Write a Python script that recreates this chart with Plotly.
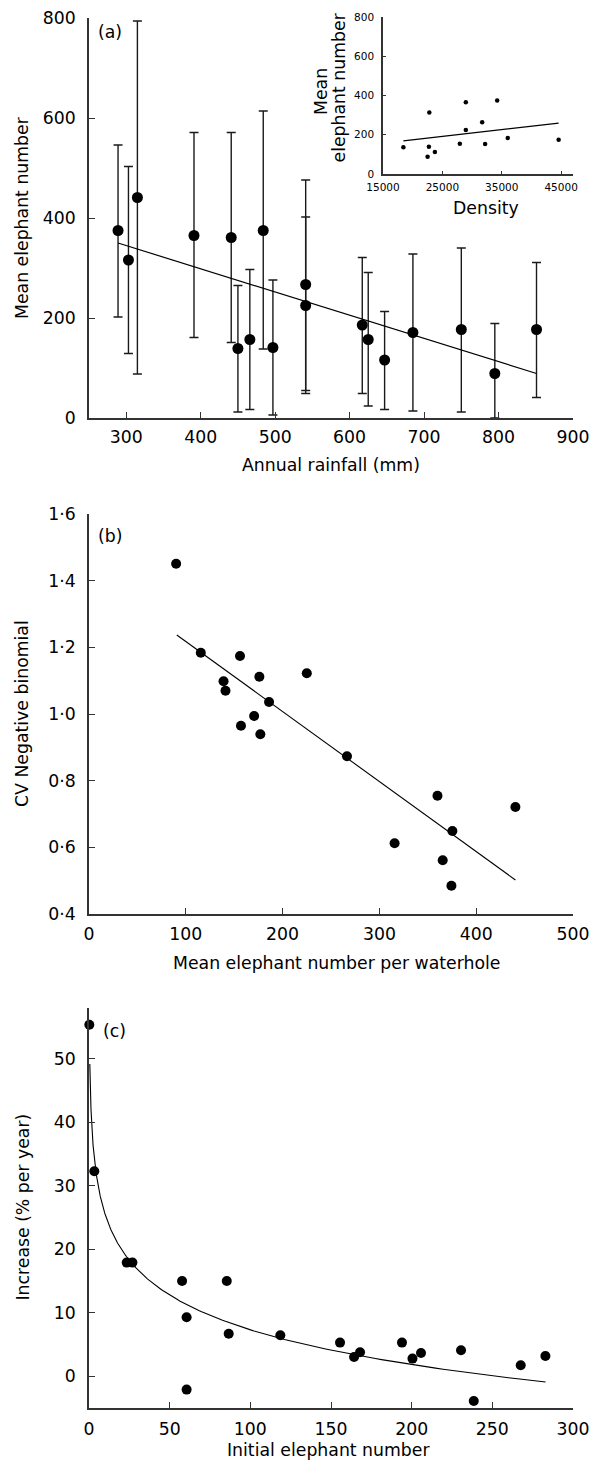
import numpy as np
import plotly.graph_objects as go

# ---------------- data ----------------
# Panel (a): mean elephant number vs annual rainfall, with error bars
rainfall = [289, 303, 315, 391, 441, 450, 466, 484, 497, 541, 541, 617, 625, 647, 685, 750, 795, 851]
mean_number = [375, 316, 441, 365, 361, 139, 157, 375, 141, 267, 225, 186, 157, 116, 171, 177, 89, 177]
bar_upper = [546, 503, 794, 571, 571, 265, 297, 614, 276, 476, 402, 321, 291, 213, 328, 340, 189, 311]
bar_lower = [202, 129, 88, 161, 151, 12, 17, 138, 6, 49, 55, 49, 24, 17, 14, 12, 0, 41]
fit_a_slope, fit_a_intercept = -0.4644, 484.2
fit_a_range = [289, 851]

# Inset: mean elephant number vs density
density = [18430, 22800, 22730, 22510, 23740, 27940, 28950, 28950, 31700, 32200, 34230, 36010, 44580]
inset_mean = [136, 314, 139, 88, 112, 154, 365, 224, 264, 153, 375, 183, 175]
fit_i_slope, fit_i_intercept = 0.003442, 105.6
fit_i_range = [18430, 44580]

# Panel (b): CV negative binomial vs mean number per waterhole
mean_per_hole = [90, 115.5, 156, 139, 141, 176, 186, 170.6, 157, 177, 225, 266.5, 360, 440.5, 375.4, 315.7, 365.4, 374.4]
cv_negbin = [1.451, 1.184, 1.174, 1.098, 1.070, 1.112, 1.036, 0.994, 0.965, 0.939, 1.122, 0.873, 0.755, 0.721, 0.649, 0.612, 0.561, 0.485]
fit_b_slope, fit_b_intercept = -0.002101, 1.4276
fit_b_range = [90.7, 440.5]

# Panel (c): increase (% per year) vs initial elephant number
initial_number = [0.2, 3.3, 23.4, 26.9, 57.7, 60.5, 60.5, 85.4, 86.6, 118.6,
                  155.6, 164.3, 168, 194, 200.5, 205.8, 230.6, 238.5, 267.6, 282.9]
increase = [55.35, 32.3, 17.9, 17.9, 15.0, 9.3, -2.1, 15.0, 6.7, 6.45,
            5.3, 3.04, 3.78, 5.3, 2.78, 3.67, 4.09, -3.9, 1.73, 3.2]
fit_c_a, fit_c_b = 43.7, 7.9          # y = a - b*ln(x)
fit_c_range = [0.5, 283]

ticks_a_x = [300, 400, 500, 600, 700, 800, 900]
ticks_a_y = [0, 200, 400, 600, 800]
ticks_i_x = [15000, 25000, 35000, 45000]
ticks_i_x_text = ["15000", "25000", "35000", "45000"]
ticks_i_y = [0, 200, 400, 600, 800]
ticks_b_x = [0, 100, 200, 300, 400, 500]
ticks_b_y = [0.4, 0.6, 0.8, 1.0, 1.2, 1.4, 1.6]
ticks_b_y_text = ["0·4", "0·6", "0·8", "1·0", "1·2", "1·4", "1·6"]
ticks_c_x = [0, 50, 100, 150, 200, 250, 300]
ticks_c_y = [0, 10, 20, 30, 40, 50]

# ---------------- figure ----------------
W, H = 595, 1464
FONT = "DejaVu Sans"
FS = 17.3
AX = "#333333"
TXT = "#000000"


def px_x(p):
    return p / W


def px_y(p):
    return 1 - p / H


fig = go.Figure()

# (a)
err_plus = [u - m for u, m in zip(bar_upper, mean_number)]
err_minus = [m - l for m, l in zip(mean_number, bar_lower)]
fig.add_trace(go.Scatter(
    x=rainfall, y=mean_number, mode="markers", xaxis="x", yaxis="y",
    marker=dict(color="black", size=11),
    error_y=dict(type="data", symmetric=False, array=err_plus, arrayminus=err_minus,
                 color="#1a1a1a", thickness=1.4, width=4.5),
    cliponaxis=False, showlegend=False))
xa = np.array(fit_a_range, dtype=float)
fig.add_trace(go.Scatter(x=xa, y=fit_a_intercept + fit_a_slope * xa, mode="lines",
                         xaxis="x", yaxis="y", line=dict(color="black", width=1.2),
                         showlegend=False))

# inset
fig.add_trace(go.Scatter(x=density, y=inset_mean, mode="markers", xaxis="x2", yaxis="y2",
                         marker=dict(color="black", size=4.5), cliponaxis=False,
                         showlegend=False))
xi = np.array(fit_i_range, dtype=float)
fig.add_trace(go.Scatter(x=xi, y=fit_i_intercept + fit_i_slope * xi, mode="lines",
                         xaxis="x2", yaxis="y2", line=dict(color="black", width=1.2),
                         showlegend=False))

# (b)
fig.add_trace(go.Scatter(x=mean_per_hole, y=cv_negbin, mode="markers", xaxis="x3", yaxis="y3",
                         marker=dict(color="black", size=10), cliponaxis=False,
                         showlegend=False))
xb = np.array(fit_b_range, dtype=float)
fig.add_trace(go.Scatter(x=xb, y=fit_b_intercept + fit_b_slope * xb, mode="lines",
                         xaxis="x3", yaxis="y3", line=dict(color="black", width=1.1),
                         showlegend=False))

# (c)
fig.add_trace(go.Scatter(x=initial_number, y=increase, mode="markers", xaxis="x4", yaxis="y4",
                         marker=dict(color="black", size=10), cliponaxis=False,
                         showlegend=False))
xc = np.geomspace(fit_c_range[0], fit_c_range[1], 300)
fig.add_trace(go.Scatter(x=xc, y=fit_c_a - fit_c_b * np.log(xc), mode="lines",
                         xaxis="x4", yaxis="y4", line=dict(color="black", width=1.1),
                         showlegend=False))


def axis(domain, rng, tickvals, anchor, ticktext=None, fs=FS, ticklen=6, standoff=None):
    d = dict(domain=domain, range=rng, tickmode="array", tickvals=tickvals,
             showline=True, linecolor=AX, linewidth=1.5, ticks="inside", ticklen=ticklen,
             tickwidth=1.3, tickcolor=AX, showgrid=False, zeroline=False, anchor=anchor,
             automargin=False,
             tickfont=dict(family=FONT, size=fs, color=TXT), fixedrange=True)
    if ticktext is not None:
        d["ticktext"] = ticktext
    if standoff is not None:
        d["ticklabelstandoff"] = standoff
    return d


main_x = [px_x(89), px_x(573)]
fig.update_layout(
    template="none",
    width=W, height=H, margin=dict(l=0, r=0, t=0, b=0, pad=0, autoexpand=False),
    paper_bgcolor="white", plot_bgcolor="white",
    font=dict(family=FONT, size=FS, color=TXT),
    xaxis=axis(main_x, [250, 900], ticks_a_x, "y", standoff=2),
    yaxis=axis([px_y(418), px_y(18)], [0, 800], ticks_a_y, "x", standoff=8),
    xaxis2=axis([px_x(383), px_x(573)], [15000, 47000], ticks_i_x, "y2", fs=10.5,
                ticklen=3, standoff=3, ticktext=ticks_i_x_text),
    yaxis2=axis([px_y(174), px_y(17)], [0, 800], ticks_i_y, "x2", fs=10.5,
                ticklen=3, standoff=5),
    xaxis3=axis(main_x, [0, 500], ticks_b_x, "y3", standoff=3),
    yaxis3=axis([px_y(914), px_y(514)], [0.4, 1.6], ticks_b_y, "x3",
                ticktext=ticks_b_y_text, standoff=8),
    xaxis4=axis(main_x, [0, 300], ticks_c_x, "y4", standoff=4),
    yaxis4=axis([px_y(1408), px_y(1008)], [-5, 58], ticks_c_y, "x4", standoff=8),
)

annots = [
    # (text, x px, y px, angle, size)
    ("Mean elephant number", 22, 218, -90, FS),
    ("Annual rainfall (mm)", 331, 465, 0, FS),
    ("Mean", 320.5, 91.5, -90, FS),
    ("elephant number", 338, 87.5, -90, FS),
    ("Density", 486, 208, 0, FS),
    ("CV Negative binomial", 22, 714, -90, FS),
    ("Mean elephant number per waterhole", 336, 963, 0, FS),
    ("Increase (% per year)", 22, 1207.5, -90, FS),
    ("Initial elephant number", 328, 1450, 0, FS),
    ("(a)", 110, 32, 0, FS),
    ("(b)", 110, 536, 0, FS),
    ("(c)", 114, 1031, 0, FS),
]
for text, x, y, ang, fs in annots:
    fig.add_annotation(text=text, x=px_x(x), y=px_y(y), xref="paper", yref="paper",
                       xanchor="center", yanchor="middle", textangle=ang, showarrow=False,
                       font=dict(family=FONT, size=fs, color=TXT))

fig.write_html("out.html")
